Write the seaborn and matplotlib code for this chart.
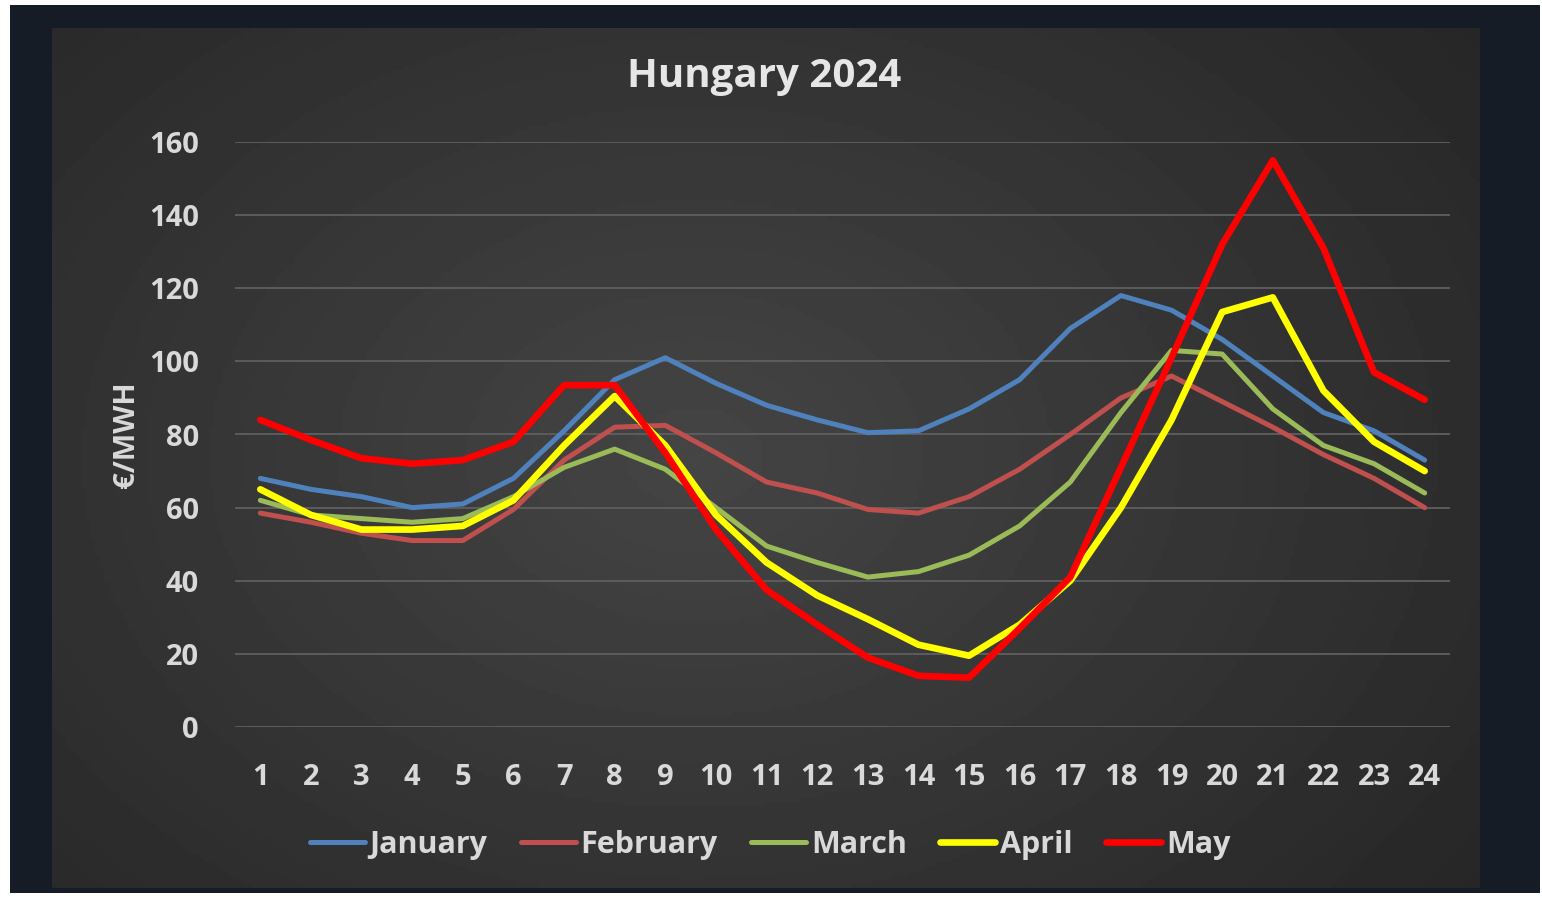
import numpy as np
import pandas as pd
import matplotlib.pyplot as plt
import seaborn as sns

# hourly day-ahead prices, Hungary 2024 (EUR/MWh)
hours = list(range(1, 25))
january = [68, 65, 63, 60, 61, 68, 81, 95, 101, 94, 88, 84, 80.5, 81, 87, 95,
           109, 118, 114, 106, 96, 86, 81, 73]
february = [58.5, 56, 53, 51, 51, 59.5, 73, 82, 82.5, 75, 67, 64, 59.5, 58.5, 63, 70.5,
            80, 90, 96, 89, 82, 74.5, 68, 60]
march = [62, 58, 57, 56, 57, 63, 71, 76, 70.5, 60, 49.5, 45, 41, 42.5, 47, 55,
         67, 86, 103, 102, 87, 77, 72, 64]
april = [65, 58, 54, 54, 55, 62, 77, 90.5, 77, 58, 45, 36, 29.5, 22.5, 19.5, 28,
         40, 60, 84, 113.5, 117.5, 92, 78, 70]
may = [84, 78.5, 73.5, 72, 73, 78, 93.5, 93.5, 75, 54, 37.5, 28, 19, 14, 13.5, 27,
       41, 71, 101, 132, 155, 131, 97, 89.5]

months = ["January", "February", "March", "April", "May"]
series = [january, february, march, april, may]
colors = ["#4f81bd", "#c0504d", "#9bbb59", "#ffff00", "#ff0000"]
widths = [3.6, 3.6, 3.6, 4.8, 4.8]

df = pd.DataFrame({m: v for m, v in zip(months, series)})
df["Hour"] = hours
long_df = df.melt(id_vars="Hour", var_name="Month", value_name="Price")

sns.set_theme(style="dark")
plt.rcParams['font.family'] = ['Open Sans', 'DejaVu Sans']

W, H = 1542, 897
fig = plt.figure(figsize=(W / 100, H / 100), dpi=100, facecolor="white")

# navy outer frame
frame = fig.add_axes([10 / W, 4 / H, 1530 / W, 888 / H], zorder=-2)
frame.set_facecolor("#151c25")
frame.set_xticks([])
frame.set_yticks([])
for s in frame.spines.values():
    s.set_visible(False)

# dark gray gradient panel
bg = fig.add_axes([52 / W, 9 / H, 1428 / W, 860 / H], zorder=-1)
yy, xx = np.mgrid[0:1:200j, 0:1:300j]
r = np.sqrt(((xx - 0.45) / 0.75) ** 2 + ((yy - 0.5) / 0.9) ** 2)
shade = np.clip(0.27 - 0.13 * r, 0.14, 0.27)
bg.imshow(shade, cmap="gray", vmin=0, vmax=1, aspect="auto", extent=[0, 1, 0, 1])
bg.set_axis_off()

ax = fig.add_axes([235 / W, 170 / H, 1215 / W, 585 / H])
ax.set_facecolor("none")

for m, c, lw in zip(months, colors, widths):
    sub = long_df[long_df["Month"] == m]
    sns.lineplot(data=sub, x="Hour", y="Price", color=c, linewidth=lw,
                 ax=ax, solid_capstyle="round", legend=False)

ax.set_xlim(0.5, 24.5)
ax.set_ylim(0, 160)
ax.set_xticks(hours)
ax.set_yticks(range(0, 161, 20))
ax.grid(axis="y", color="#5c5c5c", linewidth=1.4)
ax.grid(axis="x", visible=False)
for s in ax.spines.values():
    s.set_visible(False)
ax.tick_params(axis="both", length=0, colors="#d9d9d9", labelsize=21)
ax.tick_params(axis="x", pad=26)
ax.tick_params(axis="y", pad=26)
for lab in ax.get_xticklabels() + ax.get_yticklabels():
    lab.set_fontweight("bold")

ax.set_xlabel("")
ax.set_ylabel("€/MWH", color="#d9d9d9", fontsize=21, fontweight="bold", labelpad=6)

fig.text(764 / W, 1 - 77 / H, "Hungary 2024", color="#e6e6e6", fontsize=29,
         fontweight="bold", ha="center", va="center")

handles = [plt.Line2D([], [], color=c, linewidth=lw) for c, lw in zip(colors, widths)]
leg = fig.legend(handles, months, loc="center", bbox_to_anchor=(770 / W, 1 - 845 / H),
                 ncol=5, frameon=False, fontsize=22, handlelength=1.8,
                 handletextpad=0.15, columnspacing=1.1)
for t in leg.get_texts():
    t.set_color("#d9d9d9")
    t.set_fontweight("bold")

fig.savefig("out.png", dpi=100, facecolor=fig.get_facecolor())
